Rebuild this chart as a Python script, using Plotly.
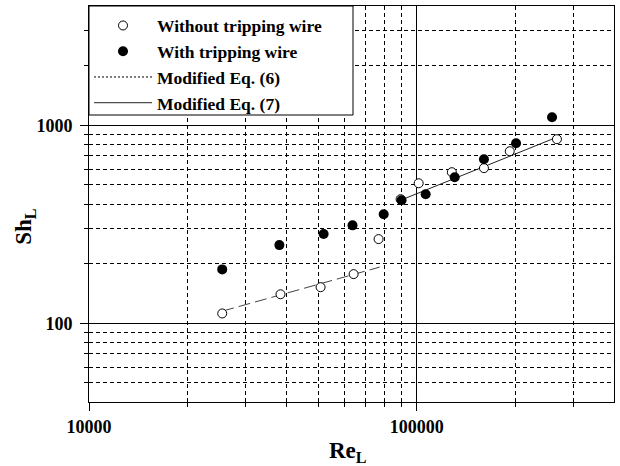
import plotly.graph_objects as go
import math

# Data
re_without = [25500, 38400, 50900, 64200, 76500, 89300, 101400, 128000, 160400, 192300, 267900]
sh_without = [112, 140, 152, 177, 266, 423, 509, 579, 607, 739, 850]
re_with = [25500, 38100, 52000, 63700, 79300, 89900, 106500, 130600, 160400, 201000, 258800]
sh_with = [187, 248, 282, 312, 355, 418, 448, 546, 673, 811, 1098]
re_eq6 = [25500, 77100]
sh_eq6 = [115, 192]
re_eq7 = [89300, 267900]
sh_eq7 = [418, 870]

x_major = [10000, 100000]
x_minor = [20000, 30000, 40000, 50000, 60000, 70000, 80000, 90000, 200000, 300000]
y_major = [100, 1000]
y_minor = [50, 60, 70, 80, 90, 200, 300, 400, 500, 600, 700, 800, 900, 2000, 3000]

FONT = "Liberation Serif"

fig = go.Figure()
fig.add_trace(go.Scatter(x=re_eq6, y=sh_eq6, mode="lines", showlegend=False,
                         line=dict(color="#444444", width=1, dash="12px,5px")))
fig.add_trace(go.Scatter(x=re_eq7, y=sh_eq7, mode="lines", name="Modified Eq. (7)",
                         legendrank=4, line=dict(color="#222222", width=1)))
fig.add_trace(go.Scatter(x=[None], y=[None], mode="lines", name="Modified Eq. (6)",
                         legendrank=3, line=dict(color="black", width=1, dash="2px,2px")))
fig.add_trace(go.Scatter(x=re_without, y=sh_without, mode="markers", name="Without tripping wire",
                         legendrank=1,
                         marker=dict(symbol="circle", size=9, color="white",
                                     line=dict(color="black", width=1))))
fig.add_trace(go.Scatter(x=re_with, y=sh_with, mode="markers", name="With tripping wire",
                         legendrank=2,
                         marker=dict(symbol="circle", size=10, color="black",
                                     line=dict(color="black", width=0))))

axis_common = dict(
    type="log", showline=True, linecolor="black", linewidth=1, mirror=True,
    showgrid=True, gridcolor="black", gridwidth=1,
    ticks="outside", ticklen=8, tickcolor="black", tickwidth=1,
    tickfont=dict(family=FONT, size=18, color="black", weight="bold"),
    zeroline=False, automargin=False,
)

fig.update_xaxes(
    **axis_common,
    range=[4, math.log10(400000)],
    tickmode="array", tickvals=x_major, ticktext=[str(v) for v in x_major],
    minor=dict(tickmode="array", tickvals=x_minor, ticks="outside", ticklen=4,
               tickcolor="black", showgrid=True, gridcolor="black", gridwidth=1,
               griddash="4px,3px"),
)
fig.update_yaxes(
    **axis_common,
    range=[math.log10(40), math.log10(4000)],
    tickmode="array", tickvals=y_major, ticktext=[str(v) for v in y_major],
    ticklabelstandoff=4,
    minor=dict(tickmode="array", tickvals=y_minor, ticks="outside", ticklen=4,
               tickcolor="black", showgrid=True, gridcolor="black", gridwidth=1,
               griddash="4px,3px"),
)

title_font = dict(family=FONT, size=23, color="black", weight="bold")
fig.add_annotation(text="Re<sub>L</sub>", xref="paper", yref="paper",
                   x=0.493, y=-0.126, xanchor="center", yanchor="middle",
                   showarrow=False, font=title_font)
fig.add_annotation(text="Sh<sub>L</sub>", xref="paper", yref="paper",
                   x=-0.122, y=0.445, xanchor="center", yanchor="middle",
                   textangle=-90, showarrow=False, font=title_font)

# legend frame
fig.add_shape(type="rect", xref="paper", yref="paper",
              x0=0, x1=(353 - 89) / 525, y0=(402 - 115) / 396, y1=1,
              fillcolor="white", line=dict(color="black", width=1), layer="above")

fig.update_layout(
    width=620, height=466,
    margin=dict(l=89, r=6, t=6, b=64, autoexpand=False),
    paper_bgcolor="white", plot_bgcolor="white",
    showlegend=True,
    legend=dict(x=0, y=0.996, xanchor="left", yanchor="top",
                bgcolor="rgba(0,0,0,0)", borderwidth=0,
                font=dict(family=FONT, size=17.5, color="black", weight="bold"),
                itemwidth=58, tracegroupgap=0),
)

fig.write_html("out.html", config={"displayModeBar": False},
               post_script="document.body.style.margin='0px';")
